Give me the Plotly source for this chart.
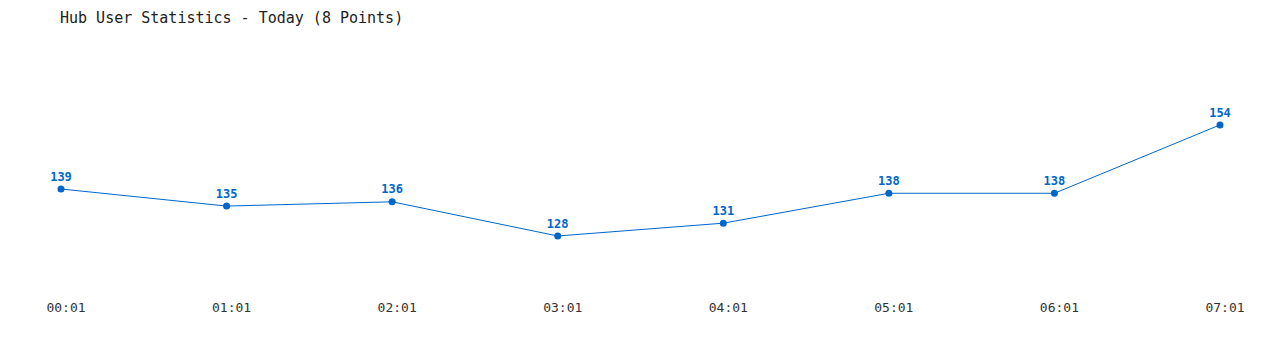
import plotly.graph_objects as go

times = ["00:01", "01:01", "02:01", "03:01", "04:01", "05:01", "06:01", "07:01"]
users = [139, 135, 136, 128, 131, 138, 138, 154]

FONT = "DejaVu Sans Mono"
BLUE = "#0066cc"

fig = go.Figure()
fig.add_trace(go.Scatter(
    x=list(range(len(times))), y=users,
    mode="lines+markers+text",
    line=dict(color=BLUE, width=1),
    marker=dict(color=BLUE, size=7),
    text=[f"<b>{v}</b>" for v in users],
    textposition="top center",
    textfont=dict(family=FONT, size=12, color=BLUE),
    cliponaxis=False,
    hoverinfo="skip",
))

fig.update_layout(
    width=1280, height=350,
    margin=dict(l=61, r=60, t=40, b=50),
    paper_bgcolor="white", plot_bgcolor="white",
    showlegend=False,
    title=dict(text="Hub User Statistics - Today (8 Points)",
               x=60/1280, xanchor="left", y=1-18/350, yanchor="middle",
               font=dict(family=FONT, size=15, color="#222222")),
    xaxis=dict(range=[0, 7], tickmode="array", tickvals=list(range(len(times))),
               ticktext=times, showgrid=False, zeroline=False, showline=False,
               ticks="", ticklabelshift=5, ticklabelstandoff=-2,
               tickfont=dict(family=FONT, size=13, color="#333333")),
    yaxis=dict(range=[113.02, 173.87], visible=False, showgrid=False, zeroline=False),
)

fig.write_html("out.html")
